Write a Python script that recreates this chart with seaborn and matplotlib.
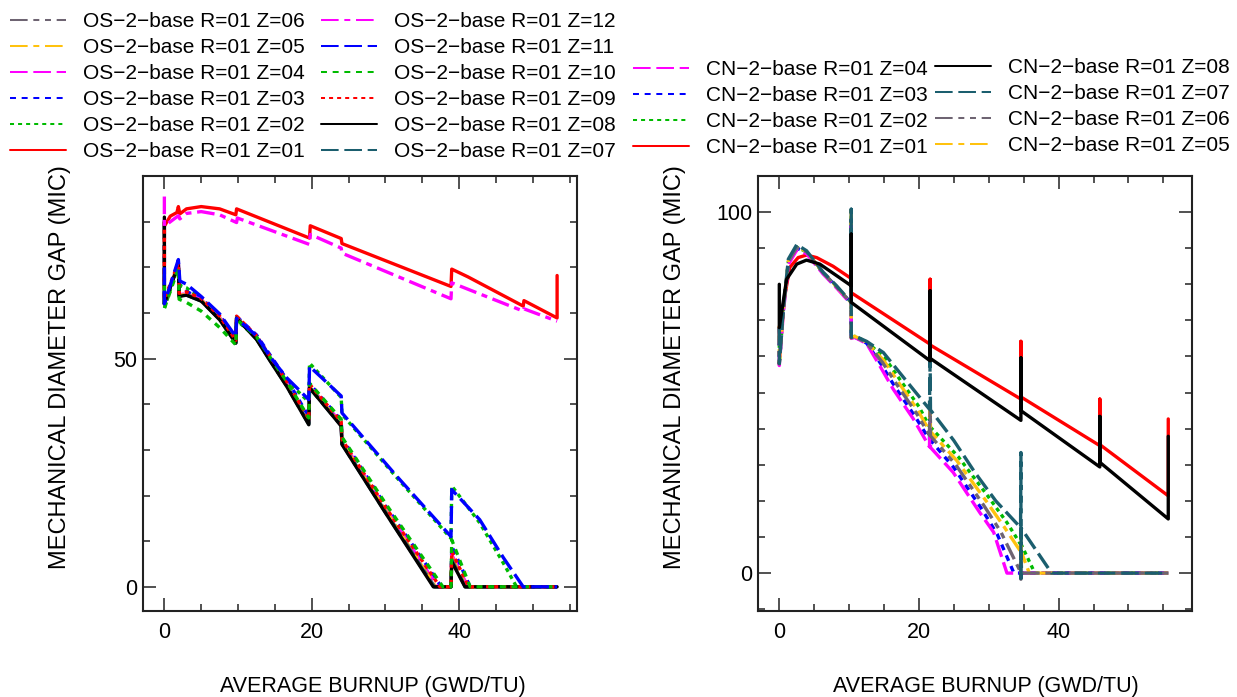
import matplotlib
matplotlib.use("Agg")
import matplotlib.pyplot as plt
from matplotlib.ticker import MultipleLocator, FixedLocator
import seaborn as sns

sns.set_style("white")
plt.rcParams['font.family'] = ['Liberation Sans', 'DejaVu Sans']
plt.rcParams['lines.scale_dashes'] = False
plt.rcParams['text.color'] = 'black'
plt.rcParams['axes.labelcolor'] = 'black'
plt.rcParams['xtick.color'] = 'black'
plt.rcParams['ytick.color'] = 'black'

# ---------------- data : OS-2 (left panel) ----------------
os_z01_x = [0.0, 0.8, 1.7, 1.9, 2.1, 3.0, 5.0, 7.5, 9.7, 9.8, 19.7, 19.8, 24.0, 24.1, 38.9, 39.0, 41.2, 48.7, 48.8, 53.3, 53.3]
os_z01_y = [79.0, 81.2, 82.0, 83.3, 81.7, 82.8, 83.3, 82.8, 81.5, 82.8, 76.4, 79.1, 76.3, 75.2, 65.8, 69.6, 67.9, 61.5, 62.7, 58.9, 68.2]

os_z02_x = [0, 0, 1.9, 2.1, 3.0, 5.0, 7.5, 9.7, 9.8, 12.5, 14.3, 16.6, 19.6, 19.7, 24.0, 24.1, 31.5, 38.9, 39.0, 42.8, 46.0, 47.8, 53.3]
os_z02_y = [68, 61, 70.5, 66.0, 65.5, 63.0, 59.3, 54.2, 58.4, 54.6, 50.0, 45.2, 40.5, 49.0, 41.5, 37.8, 24.0, 10.6, 22.1, 14.0, 5.2, 0, 0]

os_z03_x = [0, 0, 1.9, 2.0, 3.0, 5.0, 7.5, 9.7, 9.8, 12.5, 14.3, 16.6, 19.6, 19.7, 24.0, 24.1, 30.0, 37.6, 38.9, 39.0, 41.5, 53.3]
os_z03_y = [75, 62, 71.2, 64.6, 64.7, 63.2, 59.5, 54.3, 59.2, 55.2, 50.9, 45.5, 37.3, 44.5, 36.5, 32.6, 17.8, 0, 0, 8.9, 0, 0]

os_z04_x = [0, 0, 1.9, 2.0, 3.0, 5.0, 7.5, 9.7, 9.8, 12.5, 14.3, 16.6, 19.6, 19.7, 24.0, 24.1, 30.0, 37.1, 38.9, 39.0, 41.2, 53.3]
os_z04_y = [79, 62, 70.9, 64.0, 64.2, 62.9, 59.0, 53.8, 59.0, 54.7, 50.2, 44.6, 36.4, 44.0, 35.9, 32.0, 17.2, 0, 0, 7.0, 0, 0]

os_z05_x = [0, 0, 1.9, 2.0, 3.0, 5.0, 7.5, 9.7, 9.8, 12.5, 14.3, 16.6, 19.6, 19.7, 24.0, 24.1, 30.0, 36.8, 38.9, 39.0, 41.0, 53.3]
os_z05_y = [79, 62, 70.8, 63.8, 64.1, 62.8, 58.8, 53.6, 59.0, 54.5, 50.0, 44.3, 36.0, 43.8, 35.6, 31.7, 16.8, 0, 0, 6.5, 0, 0]

os_z06_x = [0, 0, 1.9, 2.0, 3.0, 5.0, 7.5, 9.7, 9.8, 12.5, 14.3, 16.6, 19.6, 19.7, 24.0, 24.1, 30.0, 36.7, 38.9, 39.0, 40.9, 53.3]
os_z06_y = [80, 62, 70.7, 63.7, 64.0, 62.7, 58.7, 53.5, 58.9, 54.4, 49.8, 44.1, 35.8, 43.7, 35.4, 31.5, 16.5, 0, 0, 6.0, 0, 0]

os_z07_x = [0, 0, 1.9, 2.0, 3.0, 5.0, 7.5, 9.7, 9.8, 12.5, 14.3, 16.6, 19.6, 19.7, 24.0, 24.1, 30.0, 36.6, 38.9, 39.0, 40.8, 53.3]
os_z07_y = [80, 62, 70.6, 63.6, 63.9, 62.6, 58.6, 53.4, 58.9, 54.3, 49.7, 44.0, 35.6, 43.6, 35.3, 31.3, 16.3, 0, 0, 5.8, 0, 0]

os_z08_x = [0, 0, 1.9, 2.0, 3.0, 5.0, 7.5, 9.7, 9.8, 12.5, 14.3, 16.6, 19.6, 19.7, 24.0, 24.1, 30.0, 36.5, 38.9, 39.0, 40.8, 53.3]
os_z08_y = [81, 62, 70.6, 63.6, 63.9, 62.6, 58.5, 53.4, 58.9, 54.2, 49.6, 43.9, 35.5, 43.6, 35.2, 31.2, 16.2, 0, 0, 5.5, 0, 0]

os_z09_x = [0, 0, 1.9, 2.0, 3.0, 5.0, 7.5, 9.7, 9.8, 12.5, 14.3, 16.6, 19.6, 19.7, 24.0, 24.1, 30.0, 37.4, 38.9, 39.0, 41.3, 53.3]
os_z09_y = [80, 63, 71.0, 64.3, 64.6, 63.2, 59.3, 54.0, 59.3, 55.0, 50.6, 45.0, 36.8, 44.4, 36.2, 32.3, 17.5, 0, 0, 7.7, 0, 0]

os_z10_x = [0, 0, 1.9, 2.0, 3.0, 5.0, 7.5, 9.7, 9.8, 12.5, 14.3, 16.6, 19.6, 19.7, 24.0, 24.1, 30.0, 37.8, 38.9, 39.0, 41.5, 53.3]
os_z10_y = [66, 61, 69.8, 63.0, 62.3, 60.4, 56.8, 53.0, 58.6, 54.8, 50.4, 45.0, 37.0, 44.6, 36.7, 32.8, 18.3, 0, 0, 10.3, 0, 0]

os_z11_x = [0, 0, 1.9, 2.1, 3.0, 5.0, 7.5, 9.7, 9.8, 12.5, 14.3, 16.6, 19.6, 19.7, 24.0, 24.1, 31.5, 38.9, 39.0, 42.8, 46.0, 48.7, 53.3]
os_z11_y = [70, 62, 71.7, 67.0, 66.3, 63.6, 59.8, 54.8, 58.8, 55.0, 50.5, 45.8, 41.0, 48.3, 41.8, 38.1, 24.3, 11.0, 21.3, 14.7, 6.4, 0, 0]

os_z12_x = [0.0, 0.0, 1.9, 2.1, 3.0, 5.0, 7.5, 9.8, 9.9, 19.7, 19.8, 24.0, 24.1, 38.9, 39.0, 48.7, 48.8, 53.3]
os_z12_y = [85.5, 79.0, 81.3, 80.6, 81.8, 82.2, 81.5, 79.8, 80.8, 75.0, 77.2, 74.2, 73.1, 63.1, 66.6, 60.4, 60.9, 58.2]

# ---------------- data : CN-2 (right panel) ----------------
cn_z01_x = [0, 1.5, 2.7, 3.9, 5.35, 7.7, 10.3, 10.3, 10.6, 21.6, 21.6, 21.6, 34.6, 34.6, 34.6, 45.9, 45.9, 45.9, 55.7, 55.7]
cn_z01_y = [68, 84.7, 87.4, 88.1, 87.4, 85.0, 81.6, 77.6, 77.3, 63.4, 81.4, 63.2, 48.2, 64.2, 48.8, 35.3, 48.2, 35.6, 21.4, 42.7]

cn_z02_x = [0, 0, 0.6, 1.3, 2.5, 3.9, 6.3, 8.2, 10.3, 10.3, 10.3, 10.8, 12.5, 15.2, 17.1, 20.0, 21.5, 21.6, 21.65, 25.6, 29.8, 32.6, 34.55, 34.6, 34.65, 36.6, 55.7]
cn_z02_y = [68, 58, 73.3, 86.3, 90.3, 89.0, 83.1, 79.3, 74.8, 99.0, 65.3, 65.6, 64.1, 59.4, 54.1, 46.1, 40.6, 48.0, 40.4, 32.3, 21.5, 14.0, 8.0, 11.0, 7.9, 0, 0]

cn_z03_x = [0, 0, 0.6, 1.3, 2.5, 3.9, 6.3, 8.2, 10.3, 10.3, 10.3, 10.8, 12.5, 14.6, 16.5, 19.4, 21.5, 21.6, 21.65, 25.0, 28.9, 31.2, 33.6, 55.7]
cn_z03_y = [68, 58, 73, 86, 90, 88.8, 83.0, 79.2, 74.7, 97.0, 65.1, 65.4, 63.7, 57.8, 51.8, 43.5, 37.0, 43.5, 36.8, 29.2, 18.0, 10.8, 0, 0]

cn_z04_x = [0, 0, 0.6, 1.3, 2.5, 3.9, 6.3, 8.2, 10.3, 10.3, 10.3, 10.8, 12.5, 14.4, 16.3, 19.2, 21.5, 21.6, 21.65, 24.9, 28.7, 30.7, 32.6, 55.7]
cn_z04_y = [68, 57.5, 72.5, 85.5, 89.5, 88.5, 82.8, 79.0, 74.5, 96.0, 65.0, 65.3, 63.6, 57.4, 51.0, 42.7, 35.0, 41.5, 34.8, 27.9, 16.8, 11.3, 0, 0]

cn_z05_x = [0, 0, 0.6, 1.3, 2.5, 3.9, 6.3, 8.2, 10.3, 10.3, 10.3, 10.8, 12.5, 15.0, 16.9, 19.8, 21.5, 21.6, 21.65, 25.4, 29.5, 32.2, 34.55, 34.6, 34.65, 35.8, 55.7]
cn_z05_y = [68.5, 58, 73.5, 86.5, 90.5, 89.1, 83.2, 79.4, 74.9, 100.5, 65.2, 65.6, 64.0, 58.8, 53.3, 45.2, 39.4, 47.0, 39.2, 31.2, 20.3, 12.8, 6.0, 9.0, 5.9, 0, 0]

cn_z06_x = [0, 0, 0.6, 1.3, 2.5, 3.9, 6.3, 8.2, 10.3, 10.3, 10.3, 10.8, 12.5, 14.8, 16.7, 19.6, 21.5, 21.6, 21.65, 25.2, 29.2, 31.7, 34.5, 34.6, 34.6, 34.7, 55.7]
cn_z06_y = [68, 58, 73.2, 86.2, 90.2, 89.0, 83.1, 79.3, 74.8, 98.0, 65.2, 65.5, 63.8, 58.3, 52.6, 44.4, 38.2, 45.0, 38.0, 30.2, 19.0, 11.5, 0.5, -1.7, 6.6, 0, 0]

cn_z07_x = [0, 0, 0.6, 1.3, 2.5, 3.9, 6.3, 8.2, 10.3, 10.3, 10.3, 10.8, 12.5, 14.9, 18.0, 21.5, 21.6, 21.65, 25.0, 28.0, 31.0, 34.55, 34.6, 34.6, 34.65, 37.0, 39.0, 55.7]
cn_z07_y = [68, 58, 74, 87, 91, 89.3, 83.3, 79.6, 75.0, 100.8, 65.3, 65.7, 64.2, 61.1, 53.7, 45.4, 58.8, 45.2, 36.7, 27.9, 20.0, 12.6, 33.4, -1.5, 12.4, 5.7, 0, 0]

cn_z08_x = [0, 0, 1.05, 2.5, 3.9, 5.8, 8.2, 10.3, 10.3, 10.3, 21.6, 21.6, 21.6, 34.6, 34.6, 34.6, 45.9, 45.9, 45.9, 55.7, 55.7]
cn_z08_y = [80, 68, 81.4, 85.6, 86.7, 85.6, 82.4, 79.6, 93.9, 75.0, 58.8, 78.2, 59.5, 42.3, 59.6, 45.0, 29.4, 43.4, 30.7, 15.0, 37.9]

zones = ["01", "02", "03", "04", "05", "06", "07", "08", "09", "10", "11", "12"]
os_x = [os_z01_x, os_z02_x, os_z03_x, os_z04_x, os_z05_x, os_z06_x,
        os_z07_x, os_z08_x, os_z09_x, os_z10_x, os_z11_x, os_z12_x]
os_y = [os_z01_y, os_z02_y, os_z03_y, os_z04_y, os_z05_y, os_z06_y,
        os_z07_y, os_z08_y, os_z09_y, os_z10_y, os_z11_y, os_z12_y]
cn_x = [cn_z01_x, cn_z02_x, cn_z03_x, cn_z04_x, cn_z05_x, cn_z06_x, cn_z07_x, cn_z08_x]
cn_y = [cn_z01_y, cn_z02_y, cn_z03_y, cn_z04_y, cn_z05_y, cn_z06_y, cn_z07_y, cn_z08_y]

# ---------------- styles ----------------
RED, GREEN, BLUE, MAGENTA = "#FF0000", "#00BB00", "#0000FF", "#FF00FF"
ORANGE, GRAY, TEAL, BLACK = "#FFC20E", "#6E6472", "#1B5E6E", "#000000"
SOLID = "-"
DOTTED = (0, (2.9, 2.9))
DASHED = (0, (4.3, 4.1))
LONGDASH = (0, (12.7, 4.1))
DOTDASH = (0, (12.7, 4.1, 4.3, 4.1))
TWODASH = (0, (12.7, 4.1, 4.3, 4.1, 4.3, 4.1))
colors = [RED, GREEN, BLUE, MAGENTA, ORANGE, GRAY, TEAL, BLACK, RED, GREEN, BLUE, MAGENTA]
styles = [SOLID, DOTTED, DASHED, LONGDASH, DOTDASH, TWODASH, LONGDASH, SOLID,
          DOTTED, DASHED, LONGDASH, DOTDASH]

LW = 2.4
W, H = 1237, 697
fig = plt.figure(figsize=(W / 100, H / 100), dpi=100)
axL = fig.add_axes([143 / W, 1 - 611 / H, 434 / W, 435 / H])
axR = fig.add_axes([758 / W, 1 - 611 / H, 434 / W, 435 / H])


def draw(ax, xs, ys, prefix):
    lines = []
    for i, (x, y) in enumerate(zip(xs, ys)):
        sns.lineplot(x=x, y=y, ax=ax, color=colors[i], linestyle=styles[i],
                     linewidth=LW, estimator=None, sort=False, legend=False)
        ln = ax.lines[-1]
        ln.set_label(f"{prefix} R=01 Z={zones[i]}")
        lines.append(ln)
    return lines


os_lines = draw(axL, os_x, os_y, "OS\u22122\u2212base")
cn_lines = draw(axR, cn_x, cn_y, "CN\u22122\u2212base")

for ax in (axL, axR):
    ax.set_xlabel("AVERAGE BURNUP (GWD/TU)", fontsize=15.5)
    ax.set_ylabel("MECHANICAL DIAMETER GAP (MIC)", fontsize=17)
    ax.xaxis.set_major_locator(FixedLocator([0, 20, 40]))
    ax.xaxis.set_minor_locator(MultipleLocator(5))
    ax.yaxis.set_minor_locator(MultipleLocator(10))
    ax.tick_params(which="both", direction="in", top=True, right=True,
                   bottom=True, left=True,
                   width=1.1, color="#222222", labelsize=15.5, labelcolor="black")
    ax.tick_params(which="major", length=9.4)
    ax.tick_params(which="minor", length=5)
    ax.tick_params(axis="x", pad=8)
    ax.tick_params(axis="y", pad=4)
    for s in ax.spines.values():
        s.set_linewidth(1.5)
        s.set_color("#222222")
    ax.yaxis.set_label_coords(-0.166, 0.56)
    ax.grid(False)

axL.set_xlim(-2.9, 56)
axL.set_ylim(-5.3, 90)
axL.yaxis.set_major_locator(FixedLocator([0, 50]))
axL.xaxis.set_label_coords(0.53, -0.15)

axR.set_xlim(-3.05, 59.1)
axR.set_ylim(-10.5, 110)
axR.yaxis.set_major_locator(FixedLocator([0, 100]))
axR.xaxis.set_label_coords(0.525, -0.15)


def add_leg(handles, x_px, ytop_px):
    leg = fig.legend(handles, [h.get_label() for h in handles], loc="upper left",
                     bbox_to_anchor=(x_px / W, 1 - ytop_px / H), frameon=False,
                     borderpad=0, borderaxespad=0, handlelength=40.5 / 15,
                     handletextpad=12.2 / 15, labelspacing=0.34, fontsize=15)
    for h in leg.legend_handles:
        h.set_linewidth(1.45)
    return leg


add_leg([os_lines[i] for i in (5, 4, 3, 2, 1, 0)], 10, 12)
add_leg([os_lines[i] for i in (11, 10, 9, 8, 7, 6)], 321, 12)
add_leg([cn_lines[i] for i in (3, 2, 1, 0)], 633, 60)
add_leg([cn_lines[i] for i in (7, 6, 5, 4)], 935, 58)

fig.savefig("out.png", dpi=100)
